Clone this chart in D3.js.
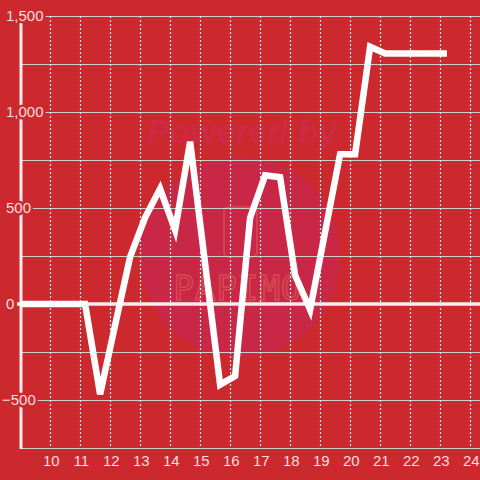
<!DOCTYPE html>
<html>
<head>
<meta charset="utf-8">
<script src="https://cdn.jsdelivr.net/npm/d3@7"></script>
<style>
html,body{margin:0;padding:0;background:#cc292e;}
svg{display:block;}
</style>
</head>
<body>
<svg id="chart" width="480" height="480"></svg>
<script>
// Data
const times  = [9.0, 11.16, 11.66, 12.16, 12.66, 13.16, 13.66, 14.16, 14.66, 15.16, 15.66, 16.16, 16.66, 17.16, 17.66, 18.16, 18.66, 19.16, 19.66, 20.16, 20.66, 21.16, 21.66, 22.16, 22.66, 23.22];
const values = [0, 0, -470, -110, 245, 450, 600, 385, 845, 210, -420, -375, 450, 670, 660, 150, -30, 375, 780, 780, 1340, 1305, 1305, 1305, 1305, 1305];
const xTicks = [10, 11, 12, 13, 14, 15, 16, 17, 18, 19, 20, 21, 22, 23, 24];
const yTicks = [-500, 0, 500, 1000, 1500];
const yGrid  = [-750, -500, -250, 0, 250, 500, 750, 1000, 1250, 1500];

const svg = d3.select("#chart");
const bg = "#cc292e";
svg.append("rect").attr("width", 480).attr("height", 480).attr("fill", bg);

const x = d3.scaleLinear().domain([9, 24.323]).range([20.3, 480]);
const y = d3.scaleLinear().domain([-750, 1500]).range([448, 16]);

// watermark
const wm = svg.append("g");
wm.append("circle").attr("cx", 240).attr("cy", 257).attr("r", 100).attr("fill", "#c92746");
wm.append("text").attr("x", 242).attr("y", 143).attr("text-anchor", "middle")
  .attr("font-family", "Liberation Sans, Arial, sans-serif").attr("font-weight", "bold")
  .attr("font-style", "italic").attr("font-size", 34).attr("fill", "#cf2a48").attr("opacity", 0.9)
  .text("Powered by");
wm.append("rect").attr("x", 224).attr("y", 207).attr("width", 33).attr("height", 50).attr("rx", 5)
  .attr("fill", "none").attr("stroke", "#d6434f").attr("stroke-width", 2);
wm.append("text").attr("x", 238).attr("y", 300).attr("text-anchor", "middle")
  .attr("font-family", "DejaVu Sans Mono, monospace").attr("font-size", 34)
  .attr("fill", "none").attr("stroke", "#d84a52").attr("stroke-width", 1.5)
  .attr("letter-spacing", 1).text("PAPIMO");

// horizontal gridlines
svg.append("g").selectAll("line").data(yGrid).join("line")
  .attr("x1", 20).attr("x2", 480)
  .attr("y1", d => Math.round(y(d)) + 0.5).attr("y2", d => Math.round(y(d)) + 0.5)
  .attr("stroke", "#cfcfcf").attr("stroke-width", 1.2);

// vertical dashed gridlines
svg.append("g").selectAll("line").data(xTicks).join("line")
  .attr("x1", d => Math.round(x(d)) + 0.5).attr("x2", d => Math.round(x(d)) + 0.5)
  .attr("y1", 16).attr("y2", 448)
  .attr("stroke", "#d8e6e6").attr("stroke-width", 1.2).attr("stroke-dasharray", "2,2");

// zero line
svg.append("line").attr("x1", 17).attr("x2", 480).attr("y1", y(0)).attr("y2", y(0))
  .attr("stroke", "#f4eeee").attr("stroke-width", 3.5);

// y axis line
svg.append("line").attr("x1", 21).attr("x2", 21).attr("y1", 16).attr("y2", 449)
  .attr("stroke", "#f4eeee").attr("stroke-width", 3);

// series line
const line = d3.line().x((d, i) => x(times[i])).y(d => y(d));
svg.append("path").datum(values).attr("d", line)
  .attr("fill", "none").attr("stroke", "#ffffff").attr("stroke-width", 6.5)
  .attr("stroke-linejoin", "miter").attr("stroke-miterlimit", 4).attr("stroke-linecap", "butt");

// y axis labels with halo
const fmt = d3.format(",");
svg.append("g").selectAll("text").data(yTicks).join("text")
  .attr("x", d => d < 0 ? 2 : 6).attr("y", d => y(d)).attr("dy", "0.36em")
  .attr("text-anchor", "start")
  .attr("font-family", "Liberation Sans, Arial, sans-serif").attr("font-size", 15)
  .attr("fill", "#f5dede").attr("stroke", bg).attr("stroke-width", 5)
  .attr("paint-order", "stroke")
  .text(d => fmt(d));

// x axis labels
svg.append("g").selectAll("text").data(xTicks).join("text")
  .attr("x", d => x(d) + 1).attr("y", 461).attr("dy", "0.36em")
  .attr("text-anchor", "middle")
  .attr("font-family", "Liberation Sans, Arial, sans-serif").attr("font-size", 15)
  .attr("fill", "#f5dede")
  .text(d => d);
</script>
</body>
</html>
